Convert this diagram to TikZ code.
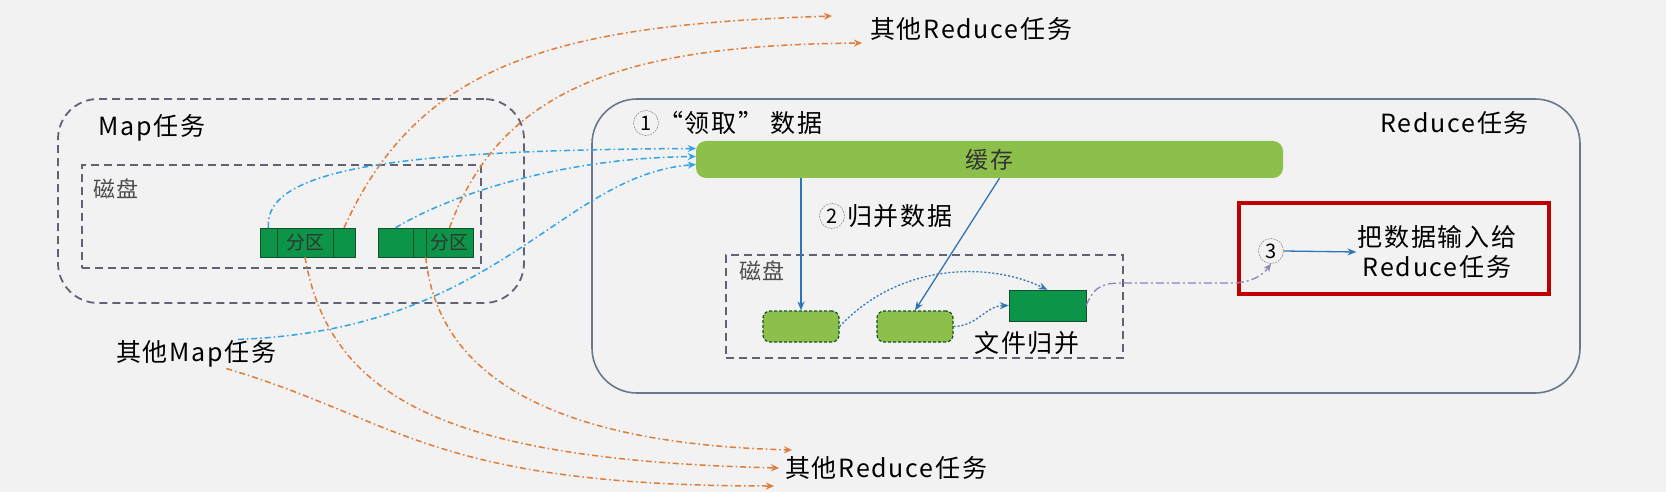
\documentclass[tikz,border=0pt]{standalone}
\usepackage{fontspec}
\setmainfont{Noto Sans CJK SC}
\newfontfamily\lblfont[LetterSpace=7]{Noto Sans CJK SC}
\usetikzlibrary{positioning, calc, arrows.meta}

\definecolor{bggray}{RGB}{242,242,242}
\definecolor{framegray}{RGB}{96,98,118}
\definecolor{reducegray}{RGB}{106,120,140}
\definecolor{lightgreen}{RGB}{141,192,74}
\definecolor{darkgreen}{RGB}{12,148,72}
\definecolor{partline}{RGB}{20,80,45}
\definecolor{solidblue}{RGB}{46,117,182}
\definecolor{skyblue}{RGB}{47,163,230}
\definecolor{sendorange}{RGB}{224,123,57}
\definecolor{hlred}{RGB}{192,0,0}
\definecolor{purpgray}{RGB}{141,134,181}

\tikzset{
	frame/.style={draw=framegray, line width=1.8pt, dash pattern=on 8pt off 5pt},
	lbl/.style={font=\lblfont\fontsize{25}{30}\selectfont, inner sep=1pt},
	disklbl/.style={font=\lblfont\fontsize{22}{24}\selectfont, text=black!70, inner sep=1pt},
	part/.style={draw=partline, fill=darkgreen, minimum height=29pt, inner sep=0pt, font=\fontsize{19}{20}\selectfont, text=black!80},
	spill/.style={draw=partline, fill=lightgreen, line width=1.2pt, dash pattern=on 3pt off 2pt, rounded corners=7pt, minimum width=76pt, minimum height=31pt},
	num/.style={circle, draw=black!60, dash pattern=on 2pt off 1pt, inner sep=0pt, minimum size=25pt, font=\fontsize{20}{20}\selectfont},
	fetchline/.style={draw=skyblue, line width=1.5pt, dash pattern=on 6pt off 3pt on 1.5pt off 3pt, -{Stealth[length=8pt,width=7pt]}},
	sendline/.style={draw=sendorange, line width=1.5pt, dash pattern=on 6pt off 3pt on 1.5pt off 3pt, -{Stealth[length=8pt,width=7pt]}},
	flowline/.style={draw=solidblue, line width=1.3pt, -{Stealth[length=9pt,width=7pt]}},
	dotline/.style={draw=solidblue, line width=1.3pt, dash pattern=on 2pt off 2pt, -{Stealth[length=9pt,width=7pt]}},
	outline/.style={draw=purpgray, line width=1.3pt, dash pattern=on 8pt off 3pt on 2pt off 3pt, -{Stealth[length=8pt,width=7pt]}}
}

\begin{document}
\begin{tikzpicture}[x=1pt, y=-1pt]
	\fill [bggray] (0,0) rectangle (1666,492);
	\useasboundingbox (0,0) rectangle (1666,492);

	\node (mapbox) [frame, rounded corners=40pt, minimum width=466pt, minimum height=204pt] at (291,201) {};
	\node (maplbl) [lbl, anchor=west] at (97,128) {Map任务};
	\node (mapdisk) [frame, minimum width=399pt, minimum height=103pt] at (281.5,216.5) {};
	\node (mapdisklbl) [disklbl, anchor=west] at (92,189) {磁盘};
	\node (p1a) [part, minimum width=17pt] at (268.5,242.5) {};
	\node (p1b) [part, minimum width=56pt] at (305,242.5) {分区};
	\node (p1c) [part, minimum width=22pt] at (344,242.5) {};
	\node (p2a) [part, minimum width=35pt] at (395.5,242.5) {};
	\node (p2b) [part, minimum width=13pt] at (419.5,242.5) {};
	\node (p2c) [part, minimum width=47pt] at (449.5,242.5) {分区};
	\node (othermap) [lbl, anchor=west] at (115,354) {其他Map任务};
	\node (rtop) [lbl, anchor=west] at (869,29) {其他Reduce任务};
	\node (rbot) [lbl, anchor=west] at (784,468) {其他Reduce任务};

	\node (redbox) [draw=reducegray, line width=1.6pt, rounded corners=45pt, minimum width=988pt, minimum height=294pt] at (1086,246) {};
	\node (redlbl) [lbl, anchor=east] at (1530,123) {Reduce任务};
	\node (c1) [num] at (646,123) {1};
	\node (fetch) [lbl, anchor=west] at (657,123) {“领取” 数据};
	\node (cache) [fill=lightgreen, rounded corners=10pt, minimum width=587pt, minimum height=37pt, font=\lblfont\fontsize{23}{26}\selectfont, text=black!80] at (989.5,159.5) {缓存};
	\node (c2) [num] at (832,216) {2};
	\node (merge) [lbl, anchor=west] at (846,216) {归并数据};
	\node (rdisk) [frame, minimum width=397pt, minimum height=103pt] at (924.5,306.5) {};
	\node (rdisklbl) [disklbl, anchor=west] at (738,271) {磁盘};
	\node (ra) [spill] at (801,326.5) {};
	\node (rb) [spill] at (915,326.5) {};
	\node (mb) [fill=darkgreen, draw=partline, minimum width=77pt, minimum height=31pt] at (1047.5,305.5) {};
	\node (fmerge) [lbl] at (1027,343) {文件归并};
	\node (hl) [draw=hlred, line width=4pt, minimum width=310pt, minimum height=91pt] at (1394,248.5) {};
	\node (c3) [num] at (1271,251) {3};
	\node (feed) [lbl, align=center] at (1437,252) {把数据输入给\\Reduce任务};

	\draw [flowline] (ra.north |- cache.south) -- (ra.north);
	\draw [flowline] ($(cache.south)+(10,0)$) -- (rb.north);
	\draw [dotline] (ra.east) .. controls (900,262) and (990,262) .. (mb.north);
	\draw [dotline] (rb.east) .. controls (978,326) and (985,306) .. (mb.west);
	\draw [outline] (mb.east) .. controls (1095,284) and (1105,283) .. (1125,283) -- (1232,283) .. controls (1250,283) and (1262,276) .. (c3.south);
	\draw [flowline] (c3.east) -- (feed.west);

	\draw [fetchline] (p1a.north) .. controls (262,165) and (420,150) .. ($(cache.west)+(0,-11)$);
	\draw [fetchline] (p2a.north) .. controls (450,195) and (560,158) .. ($(cache.west)+(0,-3)$);
	\draw [fetchline] ($(othermap.north east)+(-40,0)$) .. controls (500,330) and (560,175) .. ($(cache.west)+(0,5)$);

	\draw [sendline] (p1c.north) .. controls (420,60) and (560,25) .. ($(rtop.west)+(-37,-13)$);
	\draw [sendline] (p2c.north) .. controls (500,90) and (620,45) .. ($(rtop.west)+(-7,14)$);
	\draw [sendline] (p1b.south) .. controls (330,400) and (450,460) .. ($(rbot.west)+(-5,0)$);
	\draw [sendline] (p2c.south west) .. controls (440,400) and (600,445) .. ($(rbot.west)+(8,-18)$);
	\draw [sendline] ($(othermap.south)+(30,0)$) .. controls (400,420) and (430,486) .. ($(rbot.west)+(-10,18)$);
\end{tikzpicture}
\end{document}
